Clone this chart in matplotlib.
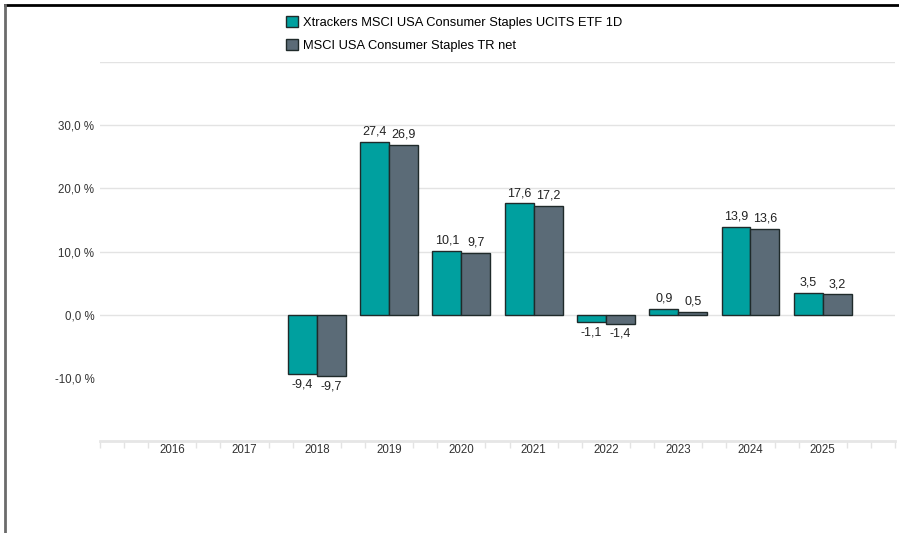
import matplotlib
matplotlib.use("Agg")
import matplotlib.pyplot as plt
from matplotlib.lines import Line2D
from matplotlib.patches import Patch
import numpy as np

plt.rcParams["font.family"] = ["Liberation Sans", "DejaVu Sans"]

years = ["2016", "2017", "2018", "2019", "2020", "2021", "2022", "2023", "2024", "2025"]
etf = [None, None, -9.4, 27.4, 10.1, 17.6, -1.1, 0.9, 13.9, 3.5]
index = [None, None, -9.7, 26.9, 9.7, 17.2, -1.4, 0.5, 13.6, 3.2]
series_names = ["Xtrackers MSCI USA Consumer Staples UCITS ETF 1D",
                "MSCI USA Consumer Staples TR net"]
colors = ["#00A09F", "#5B6B77"]
yticks = [-10, 0, 10, 20, 30]

W, H = 899, 533
fig = plt.figure(figsize=(W / 100, H / 100), dpi=100)
fig.patch.set_facecolor("white")
ax = fig.add_axes([100 / W, 1 - 441 / H, 795 / W, 379 / H])

x = np.arange(len(years))
bw = 0.4
for k, (vals, c) in enumerate(zip([etf, index], colors)):
    off = -bw / 2 if k == 0 else bw / 2
    for i, v in enumerate(vals):
        if v is None:
            continue
        ax.bar(x[i] + off, v, width=bw, color=c, edgecolor="#1f2a2a",
               linewidth=1.0, zorder=3)
        lbl = f"{v:.1f}".replace(".", ",")
        if v >= 0:
            ax.text(x[i] + off, v + 0.7, lbl, ha="center", va="bottom",
                    fontsize=9, color="#222222", zorder=4)
        else:
            ax.text(x[i] + off, v - 0.7, lbl, ha="center", va="top",
                    fontsize=9, color="#222222", zorder=4)

ax.set_xlim(-1, 10)
ax.set_ylim(-20, 40)

# grid
for g in [0, 10, 20, 30, 40]:
    ax.axhline(g, color="#e3e3e3", lw=1, zorder=1)

for s in ["top", "right", "left"]:
    ax.spines[s].set_visible(False)
ax.spines["bottom"].set_color("#e6e6e6")
ax.spines["bottom"].set_linewidth(2)

ax.set_yticks(yticks)
ax.set_yticklabels([f"{t:.1f}".replace(".", ",") + " %" for t in yticks])
ax.tick_params(axis="y", length=0, pad=4, labelsize=8.3, labelcolor="#333333")

ax.set_xticks(x)
ax.set_xticklabels(years)
ax.tick_params(axis="x", which="major", length=0, pad=2.5, labelsize=8.3,
               labelcolor="#333333")
minor = [n / 3 for n in range(-3, 31) if not (n % 3 == 0 and 0 <= n <= 27)]
ax.set_xticks(minor, minor=True)
ax.tick_params(axis="x", which="minor", length=5, width=1, color="#e3e3e3")

handles = [Patch(facecolor=c, edgecolor="#1f2a2a", linewidth=1.0) for c in colors]
fig.legend(handles, series_names, loc="upper left",
           bbox_to_anchor=(286 / W, 1 - 16 / H), frameon=False,
           fontsize=9.3, handlelength=0.9, handleheight=0.9,
           handletextpad=0.45, labelspacing=0.8, borderaxespad=0,
           borderpad=0)

# outer frame lines (top and left)
fig.add_artist(Line2D([4.5 / W, 1], [1 - 5 / H, 1 - 5 / H], color="black",
                      lw=2, transform=fig.transFigure))
fig.add_artist(Line2D([4.5 / W, 4.5 / W], [0, 1 - 5 / H], color="#6b6b6b",
                      lw=2, transform=fig.transFigure))

fig.savefig("out.png", dpi=100)
